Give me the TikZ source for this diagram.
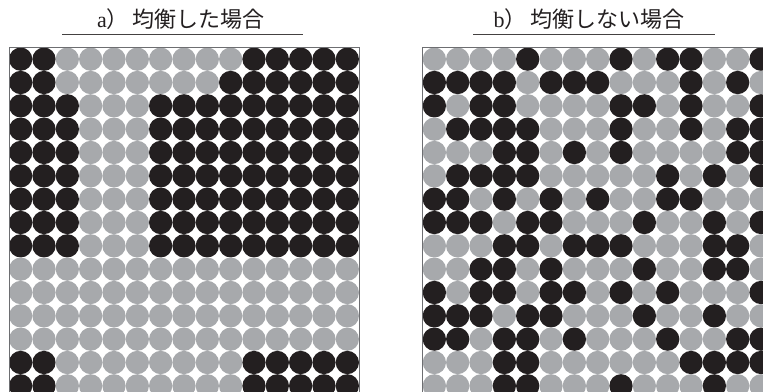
\documentclass[tikz,border=0pt]{standalone}
\usepackage{fontspec}
\setmainfont{Liberation Serif}
\newfontfamily\jpfont{Noto Sans CJK JP}
\definecolor{dotblack}{HTML}{231F20}
\definecolor{dotgray}{HTML}{A7A9AC}
\definecolor{framegray}{HTML}{6D6E71}
\tikzset{
  titletext/.style={font=\fontsize{22}{24}\selectfont, text=dotblack, inner sep=0pt, anchor=center},
  titlerule/.style={draw=dotblack!85, line width=0.9pt},
  gridframe/.style={draw=framegray, line width=0.8pt},
  blackdot/.style={fill=dotblack},
  graydot/.style={fill=dotgray}
}
\begin{document}
\begin{tikzpicture}[x=1pt,y=-1pt]
\useasboundingbox (0,0) rectangle (763,391);
\clip (0,0) rectangle (763,391);
\def\pitch{23.333}
\def\rad{11.65}
% ---- titles ----
\node[titletext] (titleA) at (181,19) {a{\jpfont ）\kern4pt 均衡した場合}};
\node[titletext] (titleB) at (589,19) {b{\jpfont ）\kern4pt 均衡しない場合}};
\draw[titlerule] (62,34) -- (303,34);
\draw[titlerule] (473,34) -- (715,34);
% ---- left grid (balanced) ----
\foreach \rowbits [count=\r] in {
 {1,1,0,0,0,0,0,0,0,0,1,1,1,1,1},
 {1,1,0,0,0,0,0,0,0,1,1,1,1,1,1},
 {1,1,1,0,0,0,1,1,1,1,1,1,1,1,1},
 {1,1,1,0,0,0,1,1,1,1,1,1,1,1,1},
 {1,1,1,0,0,0,1,1,1,1,1,1,1,1,1},
 {1,1,1,0,0,0,1,1,1,1,1,1,1,1,1},
 {1,1,1,0,0,0,1,1,1,1,1,1,1,1,1},
 {1,1,1,0,0,0,1,1,1,1,1,1,1,1,1},
 {1,1,1,0,0,0,1,1,1,1,1,1,1,1,1},
 {0,0,0,0,0,0,0,0,0,0,0,0,0,0,0},
 {0,0,0,0,0,0,0,0,0,0,0,0,0,0,0},
 {0,0,0,0,0,0,0,0,0,0,0,0,0,0,0},
 {0,0,0,0,0,0,0,0,0,0,0,0,0,0,0},
 {1,1,0,0,0,0,0,0,0,0,1,1,1,1,1},
 {1,1,0,0,0,0,0,0,0,0,1,1,1,1,1}} {
  \foreach \b [count=\k] in \rowbits {
    \ifnum\b=1
      \fill[blackdot] ({9+(\k-0.5)*\pitch},{47.5+(\r-0.5)*\pitch}) circle (\rad);
    \else
      \fill[graydot] ({9+(\k-0.5)*\pitch},{47.5+(\r-0.5)*\pitch}) circle (\rad);
    \fi
  }
}
\draw[gridframe] (9,47.5) rectangle (359,397.5);
% ---- right grid (not balanced) ----
\foreach \rowbits [count=\r] in {
 {0,0,0,0,1,0,0,0,1,0,1,1,0,0,1},
 {1,1,1,1,0,1,1,1,0,0,0,1,0,1,0},
 {1,0,1,1,0,0,0,0,1,1,0,1,0,0,1},
 {0,1,1,1,1,0,0,0,1,0,0,1,0,1,1},
 {0,0,0,1,1,0,1,0,1,0,0,0,0,1,1},
 {0,1,1,1,1,0,0,0,0,0,1,0,1,0,1},
 {1,1,0,1,0,1,0,1,0,0,1,1,0,0,0},
 {1,1,1,0,1,1,0,0,0,1,0,0,1,0,1},
 {0,0,0,1,1,0,1,1,1,0,0,0,1,1,0},
 {0,0,1,1,0,1,0,0,0,1,0,0,1,1,0},
 {1,0,1,1,0,1,1,0,1,0,1,0,0,0,1},
 {1,1,1,0,1,1,0,0,0,1,0,0,1,0,0},
 {1,1,0,1,1,0,1,0,0,0,1,0,0,1,1},
 {0,0,0,1,1,0,0,0,0,0,0,1,1,1,1},
 {0,0,0,1,1,0,0,0,1,0,0,0,1,0,0}} {
  \foreach \b [count=\k] in \rowbits {
    \ifnum\b=1
      \fill[blackdot] ({422.7+(\k-0.5)*\pitch},{47.5+(\r-0.5)*\pitch}) circle (\rad);
    \else
      \fill[graydot] ({422.7+(\k-0.5)*\pitch},{47.5+(\r-0.5)*\pitch}) circle (\rad);
    \fi
  }
}
\draw[gridframe] (422.7,47.5) rectangle (772.7,397.5);
\end{tikzpicture}
\end{document}
